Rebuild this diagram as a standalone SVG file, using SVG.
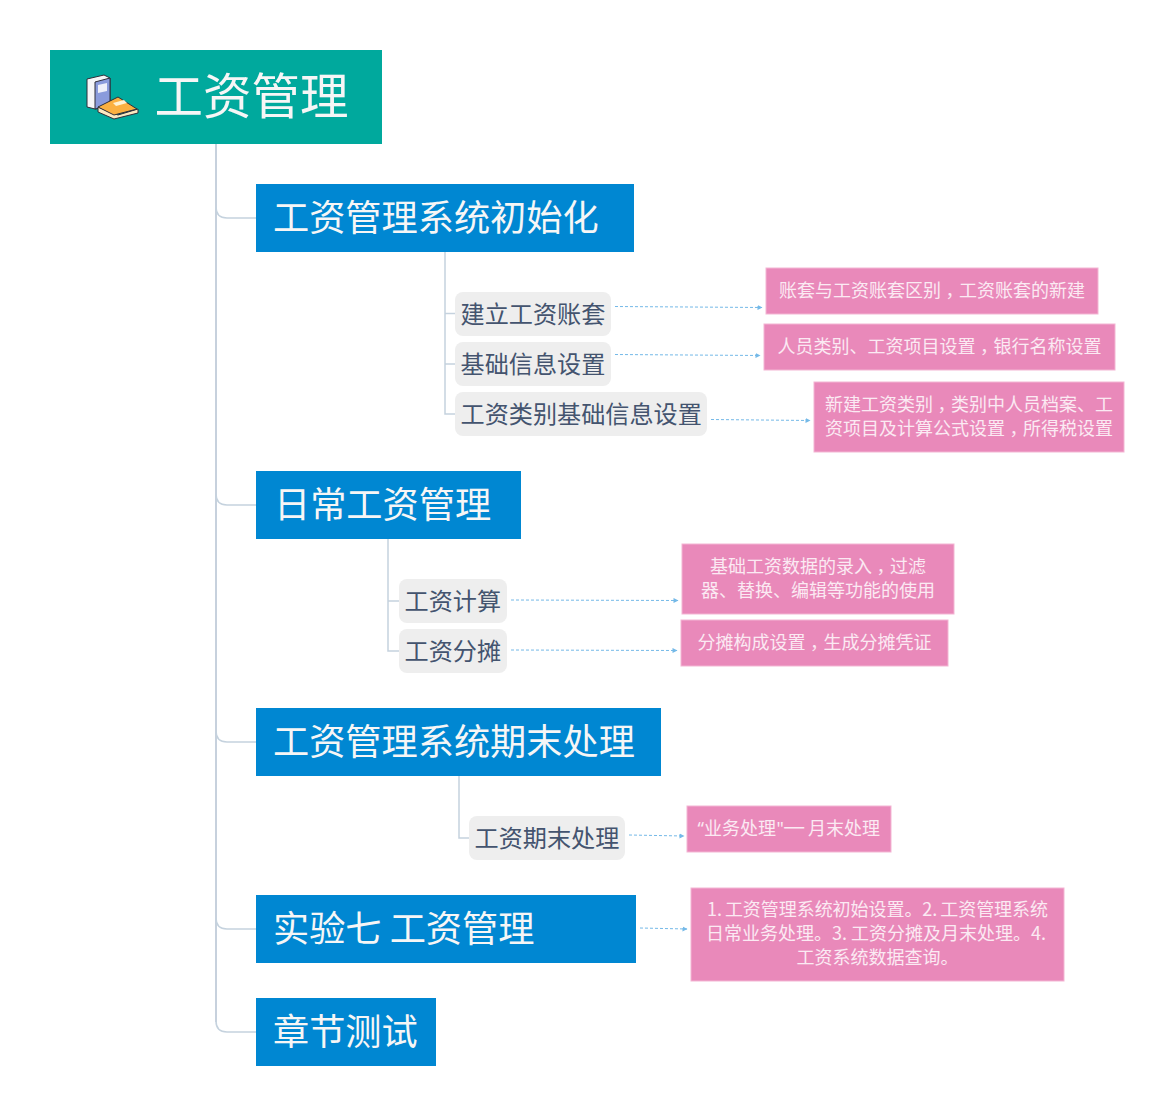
<svg xmlns="http://www.w3.org/2000/svg" width="1174" height="1116" viewBox="0 0 1174 1116">
<style>
text{font-family:"Noto Sans CJK SC","Noto Sans",sans-serif}
.root{fill:#00a99d}.l1{fill:#0087d2}.l2{fill:#eeeeee}.note{fill:#e989ba;stroke:#f3b5d3;stroke-width:1}
.t0{font-size:48.500px;fill:#f6f6f6}.t1{font-size:36.200px;fill:#f6f6f6}.t2{font-size:24.150px;fill:#44546f}.t3{font-size:18px;fill:#fbeaf3;text-anchor:middle}.t3s{font-size:18px;fill:#fbeaf3}
.c{font-feature-settings:"halt"}
.trunk{fill:none;stroke:#b4c2d2;stroke-width:1.500}.branch{fill:none;stroke:#c5d2de;stroke-width:1.500}
.dash{fill:none;stroke:#74b9e8;stroke-width:1;stroke-dasharray:3 2;marker-end:url(#arr)}
</style>
<defs><marker id="arr" markerWidth="6" markerHeight="6" refX="4.500" refY="2.500" orient="auto" markerUnits="userSpaceOnUse"><path d="M0 0L5 2.500L0 5Z" fill="#74b9e8"/></marker></defs>
<g id="connectors">
<path class="trunk" d="M216 144V1022"/>
<path class="branch" d="M216 207Q216 218 227 218H256M216 494Q216 505 227 505H256M216 731Q216 742 227 742H256M216 918Q216 929 227 929H256M216 1021Q216 1032 227 1032H256"/>
<path class="branch" d="M445 252V414H456M445 313.500H456M445 364H456"/>
<path class="branch" d="M388 539V651H399M388 601H399"/>
<path class="branch" d="M459 776V838H469"/>
<path class="dash" d="M615 306.500L762 307.500"/>
<path class="dash" d="M615 354.500L760 355.500"/>
<path class="dash" d="M711 419.500L810 420.500"/>
<path class="dash" d="M511 600L678 600.500"/>
<path class="dash" d="M511 650L677 650.500"/>
<path class="dash" d="M629 835L684 836"/>
<path class="dash" d="M640 928L687 929"/>
</g>
<g id="root"><rect class="root" x="50" y="50" width="332" height="94"/>
<g id="icon" stroke="#2e2e3a" stroke-width="1" stroke-linejoin="round">
<path d="M87 79L104 75L110 78V106L95 109L87 107Z" fill="#f6f6f8"/>
<path d="M95 82L110 78V106L95 109Z" fill="#8a9bdc"/>
<path d="M98 85L107 83V91L98 93Z" fill="#eef0fa" stroke="none"/>
<path d="M98 107V112L114 119L138 113V109L118 115Z" fill="#fbe8c0"/>
<path d="M98 107L118 97L137 109L114 115Z" fill="#fbb040"/>
<path d="M113 103L124 100L127 103L116 106Z" fill="#fff2d2" stroke="none"/>
</g>
<text class="t0" x="154.500" y="114">工资管理</text></g>
<g id="n1"><rect class="l1" x="256" y="184" width="378" height="68"/><text class="t1" x="273" y="231">工资管理系统初始化</text></g>
<g id="n11"><rect class="l2" x="455" y="292" width="156" height="44" rx="8"/><text class="t2" x="460.500" y="322.500">建立工资账套</text></g>
<g id="n12"><rect class="l2" x="455" y="342" width="156" height="44" rx="8"/><text class="t2" x="460.500" y="372.500">基础信息设置</text></g>
<g id="n13"><rect class="l2" x="455" y="392" width="252" height="44" rx="8"/><text class="t2" x="460.500" y="422.500">工资类别基础信息设置</text></g>
<g id="n111"><rect class="note" x="766" y="268" width="332" height="46"/><text class="t3" x="932" y="297">账套与工资账套区别<tspan class="c" dx="4.500">，</tspan><tspan dx="4.500">工资账套的新建</tspan></text></g>
<g id="n121"><rect class="note" x="764" y="324" width="351" height="46"/><text class="t3" x="939.500" y="353">人员类别、工资项目设置<tspan class="c" dx="4.500">，</tspan><tspan dx="4.500">银行名称设置</tspan></text></g>
<g id="n131"><rect class="note" x="814" y="382" width="310" height="70"/><text class="t3" x="969" y="411">新建工资类别<tspan class="c" dx="4.500">，</tspan><tspan dx="4.500">类别中人员档案、工</tspan></text><text class="t3" x="969" y="435">资项目及计算公式设置<tspan class="c" dx="4.500">，</tspan><tspan dx="4.500">所得税设置</tspan></text></g>
<g id="n2"><rect class="l1" x="256" y="471" width="265" height="68"/><text class="t1" x="274" y="518">日常工资管理</text></g>
<g id="n21"><rect class="l2" x="399" y="579" width="108" height="44" rx="8"/><text class="t2" x="404.500" y="609.500">工资计算</text></g>
<g id="n22"><rect class="l2" x="399" y="629" width="108" height="44" rx="8"/><text class="t2" x="404.500" y="659.500">工资分摊</text></g>
<g id="n211"><rect class="note" x="682" y="544" width="272" height="70"/><text class="t3" x="818" y="573">基础工资数据的录入<tspan class="c" dx="4.500">，</tspan><tspan dx="4.500">过滤</tspan></text><text class="t3" x="818" y="597">器、替换、编辑等功能的使用</text></g>
<g id="n221"><rect class="note" x="681" y="620" width="267" height="46"/><text class="t3" x="814.500" y="649">分摊构成设置<tspan class="c" dx="4.500">，</tspan><tspan dx="4.500">生成分摊凭证</tspan></text></g>
<g id="n3"><rect class="l1" x="256" y="708" width="405" height="68"/><text class="t1" x="273" y="755">工资管理系统期末处理</text></g>
<g id="n31"><rect class="l2" x="469" y="816" width="156" height="44" rx="8"/><text class="t2" x="474.500" y="846.500">工资期末处理</text></g>
<g id="n311"><rect class="note" x="687" y="806" width="204" height="46"/><text class="t3s" y="835"><tspan x="697.500" font-family="Noto Sans">“</tspan><tspan x="704">业务处理</tspan><tspan x="776.500" font-family="Noto Sans">"</tspan><tspan x="783" font-size="25">—</tspan><tspan x="808">月末处理</tspan></text></g>
<g id="n4"><rect class="l1" x="256" y="895" width="380" height="68"/><text class="t1" x="273" y="942">实验七 工资管理</text></g>
<g id="n41"><rect class="note" x="691" y="888" width="373" height="93"/><text class="t3" x="877.500" y="916" word-spacing="-1" letter-spacing="-0.050">1. 工资管理系统初始设置。2. 工资管理系统</text><text class="t3" x="876" y="940">日常业务处理。3. 工资分摊及月末处理。4.</text><text class="t3" x="877.500" y="964">工资系统数据查询。</text></g>
<g id="n5"><rect class="l1" x="256" y="998" width="180" height="68"/><text class="t1" x="273" y="1045">章节测试</text></g>
</svg>
